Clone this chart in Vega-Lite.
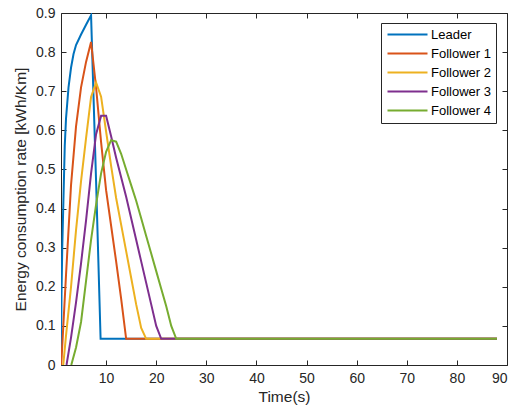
{
  "$schema": "https://vega.github.io/schema/vega-lite/v6.json",
  "autosize": {"type": "none"},
  "padding": {"left": 61, "top": 13, "right": 10, "bottom": 47},
  "width": 446,
  "height": 352,
  "background": "white",
  "data": {
    "values": [
      {"t": 1, "v": 0, "s": "Leader"},
      {"t": 1.1, "v": 0.18, "s": "Leader"},
      {"t": 1.25, "v": 0.3, "s": "Leader"},
      {"t": 1.5, "v": 0.43, "s": "Leader"},
      {"t": 1.75, "v": 0.56, "s": "Leader"},
      {"t": 2, "v": 0.63, "s": "Leader"},
      {"t": 2.5, "v": 0.71, "s": "Leader"},
      {"t": 3, "v": 0.76, "s": "Leader"},
      {"t": 3.5, "v": 0.795, "s": "Leader"},
      {"t": 4, "v": 0.818, "s": "Leader"},
      {"t": 5, "v": 0.845, "s": "Leader"},
      {"t": 6, "v": 0.87, "s": "Leader"},
      {"t": 7, "v": 0.894, "s": "Leader"},
      {"t": 8, "v": 0.47, "s": "Leader"},
      {"t": 8.9, "v": 0.067, "s": "Leader"},
      {"t": 88, "v": 0.067, "s": "Leader"},

      {"t": 1.05, "v": 0, "s": "Follower 1"},
      {"t": 2, "v": 0.23, "s": "Follower 1"},
      {"t": 3, "v": 0.46, "s": "Follower 1"},
      {"t": 4, "v": 0.61, "s": "Follower 1"},
      {"t": 5, "v": 0.71, "s": "Follower 1"},
      {"t": 6, "v": 0.775, "s": "Follower 1"},
      {"t": 7, "v": 0.826, "s": "Follower 1"},
      {"t": 8, "v": 0.71, "s": "Follower 1"},
      {"t": 9, "v": 0.57, "s": "Follower 1"},
      {"t": 10, "v": 0.447, "s": "Follower 1"},
      {"t": 11, "v": 0.356, "s": "Follower 1"},
      {"t": 12, "v": 0.265, "s": "Follower 1"},
      {"t": 13, "v": 0.17, "s": "Follower 1"},
      {"t": 14, "v": 0.067, "s": "Follower 1"},
      {"t": 88, "v": 0.067, "s": "Follower 1"},

      {"t": 1.45, "v": 0, "s": "Follower 2"},
      {"t": 2, "v": 0.075, "s": "Follower 2"},
      {"t": 3, "v": 0.2, "s": "Follower 2"},
      {"t": 4, "v": 0.345, "s": "Follower 2"},
      {"t": 5, "v": 0.47, "s": "Follower 2"},
      {"t": 6, "v": 0.58, "s": "Follower 2"},
      {"t": 7, "v": 0.685, "s": "Follower 2"},
      {"t": 8, "v": 0.722, "s": "Follower 2"},
      {"t": 9, "v": 0.686, "s": "Follower 2"},
      {"t": 10, "v": 0.597, "s": "Follower 2"},
      {"t": 11, "v": 0.509, "s": "Follower 2"},
      {"t": 12, "v": 0.427, "s": "Follower 2"},
      {"t": 13, "v": 0.359, "s": "Follower 2"},
      {"t": 14, "v": 0.291, "s": "Follower 2"},
      {"t": 15, "v": 0.223, "s": "Follower 2"},
      {"t": 16, "v": 0.155, "s": "Follower 2"},
      {"t": 17, "v": 0.095, "s": "Follower 2"},
      {"t": 18, "v": 0.067, "s": "Follower 2"},
      {"t": 88, "v": 0.067, "s": "Follower 2"},

      {"t": 2.1, "v": 0, "s": "Follower 3"},
      {"t": 3, "v": 0.07, "s": "Follower 3"},
      {"t": 4, "v": 0.16, "s": "Follower 3"},
      {"t": 5, "v": 0.26, "s": "Follower 3"},
      {"t": 6, "v": 0.37, "s": "Follower 3"},
      {"t": 7, "v": 0.49, "s": "Follower 3"},
      {"t": 8, "v": 0.59, "s": "Follower 3"},
      {"t": 9, "v": 0.637, "s": "Follower 3"},
      {"t": 10, "v": 0.637, "s": "Follower 3"},
      {"t": 11, "v": 0.585, "s": "Follower 3"},
      {"t": 12, "v": 0.53, "s": "Follower 3"},
      {"t": 13, "v": 0.48, "s": "Follower 3"},
      {"t": 14, "v": 0.43, "s": "Follower 3"},
      {"t": 15, "v": 0.375, "s": "Follower 3"},
      {"t": 16, "v": 0.32, "s": "Follower 3"},
      {"t": 17, "v": 0.265, "s": "Follower 3"},
      {"t": 18, "v": 0.21, "s": "Follower 3"},
      {"t": 19, "v": 0.155, "s": "Follower 3"},
      {"t": 20, "v": 0.1, "s": "Follower 3"},
      {"t": 21, "v": 0.067, "s": "Follower 3"},
      {"t": 88, "v": 0.067, "s": "Follower 3"},

      {"t": 3.05, "v": 0, "s": "Follower 4"},
      {"t": 4, "v": 0.045, "s": "Follower 4"},
      {"t": 5, "v": 0.11, "s": "Follower 4"},
      {"t": 6, "v": 0.215, "s": "Follower 4"},
      {"t": 7, "v": 0.32, "s": "Follower 4"},
      {"t": 8, "v": 0.41, "s": "Follower 4"},
      {"t": 9, "v": 0.49, "s": "Follower 4"},
      {"t": 10, "v": 0.545, "s": "Follower 4"},
      {"t": 11, "v": 0.575, "s": "Follower 4"},
      {"t": 12, "v": 0.571, "s": "Follower 4"},
      {"t": 13, "v": 0.54, "s": "Follower 4"},
      {"t": 14, "v": 0.5, "s": "Follower 4"},
      {"t": 15, "v": 0.46, "s": "Follower 4"},
      {"t": 16, "v": 0.42, "s": "Follower 4"},
      {"t": 17, "v": 0.375, "s": "Follower 4"},
      {"t": 18, "v": 0.33, "s": "Follower 4"},
      {"t": 19, "v": 0.285, "s": "Follower 4"},
      {"t": 20, "v": 0.24, "s": "Follower 4"},
      {"t": 21, "v": 0.195, "s": "Follower 4"},
      {"t": 22, "v": 0.15, "s": "Follower 4"},
      {"t": 23, "v": 0.1, "s": "Follower 4"},
      {"t": 24, "v": 0.067, "s": "Follower 4"},
      {"t": 88, "v": 0.067, "s": "Follower 4"}
    ]
  },
  "layer": [
    {
      "mark": {"type": "line", "strokeWidth": 2, "clip": true},
      "encoding": {
        "x": {
          "field": "t", "type": "quantitative",
          "scale": {"domain": [1, 90], "nice": false, "zero": false},
          "axis": {"orient": "bottom", "values": [10, 20, 30, 40, 50, 60, 70, 80, 90], "title": "Time(s)", "labelPadding": 11, "titlePadding": 4}
        },
        "y": {
          "field": "v", "type": "quantitative",
          "scale": {"domain": [0, 0.9], "nice": false},
          "axis": {"orient": "left", "values": [0, 0.1, 0.2, 0.3, 0.4, 0.5, 0.6, 0.7, 0.8, 0.9], "labelExpr": "datum.value == 0 ? '0' : format(datum.value, '.1f')", "title": "Energy consumption rate [kWh/Km]", "labelPadding": 11, "titlePadding": 7}
        },
        "color": {
          "field": "s", "type": "nominal",
          "scale": {
            "domain": ["Leader", "Follower 1", "Follower 2", "Follower 3", "Follower 4"],
            "range": ["#0072BD", "#D95319", "#EDB120", "#7E2F8E", "#77AC30"]
          },
          "legend": {
            "orient": "none", "legendX": 320, "legendY": 10, "title": null,
            "symbolType": "M-1,0H7", "symbolSize": 100, "symbolStrokeWidth": 2,
            "labelFontSize": 13, "labelFont": "Liberation Sans", "labelColor": "#000000", "labelAlign": "left",
            "labelOffset": 32, "rowPadding": 5, "padding": 5,
            "strokeColor": "#262626", "fillColor": "white"
          }
        }
      }
    },
    {
      "mark": {"type": "line", "strokeOpacity": 0},
      "encoding": {
        "x": {
          "field": "t", "type": "quantitative",
          "axis": {"orient": "top", "values": [10, 20, 30, 40, 50, 60, 70, 80, 90], "labels": false, "title": null}
        },
        "y": {
          "field": "v", "type": "quantitative",
          "axis": {"orient": "right", "values": [0, 0.1, 0.2, 0.3, 0.4, 0.5, 0.6, 0.7, 0.8, 0.9], "labels": false, "title": null}
        },
        "detail": {"field": "s", "type": "nominal"}
      }
    }
  ],
  "resolve": {"axis": {"x": "independent", "y": "independent"}},
  "config": {
    "view": {"stroke": null},
    "axis": {
      "grid": false,
      "domainColor": "#262626", "domainWidth": 1,
      "tickColor": "#262626", "tickWidth": 1, "tickSize": -5,
      "labelColor": "#262626", "titleColor": "#262626",
      "labelFont": "Liberation Sans", "titleFont": "Liberation Sans",
      "labelFontSize": 14, "titleFontSize": 15.5, "titleFontWeight": "normal"
    }
  }
}
